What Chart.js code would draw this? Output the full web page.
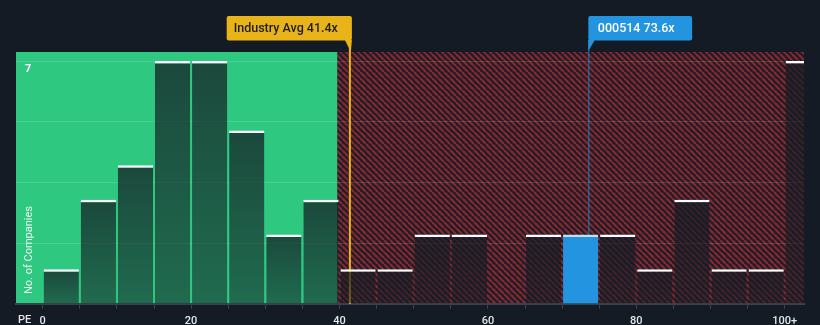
<!DOCTYPE html>
<html>
<head>
<meta charset="utf-8">
<script src="https://cdn.jsdelivr.net/npm/chart.js@4.4.1/dist/chart.umd.min.js"></script>
<style>
  html, body { margin: 0; padding: 0; background: #151b24; }
  #wrap { width: 820px; height: 325px; }
</style>
</head>
<body>
<div id="wrap"><canvas id="pe" width="820" height="325"></canvas></div>
<script>
// PE distribution of the industry, in bins of 5x
const binStarts = [0, 5, 10, 15, 20, 25, 30, 35, 40, 45, 50, 55, 60, 65, 70, 75, 80, 85, 90, 95, 100];
const companyCounts = [1, 3, 4, 7, 7, 5, 2, 3, 1, 1, 2, 2, 0, 2, 2, 2, 1, 3, 1, 1, 7];
const binWidth = 5;

// reference markers
const industryAvg = 41.4;
const companyName = '000514';
const companyPE = 73.6;
const fairRangeEnd = 40;

// axis ticks
const xTickValues = [0, 5, 10, 15, 20, 25, 30, 35, 40, 45, 50, 55, 60, 65, 70, 75, 80, 85, 90, 95, 100];
const xLabelValues = [0, 20, 40, 60, 80, 100];
const xLabelTexts = ['0', '20', '40', '60', '80', '100+'];
const yGridValues = [0, 1.75, 3.5, 5.25, 7];
const yLabelValue = 7;

const FONT = 'Roboto, "Noto Sans", sans-serif';
const BG = '#151b24';
const GREEN = '#2ec880';
const BLUE = '#2394df';
const GOLD = '#e9b31a';

const highlightIndex = binStarts.findIndex(s => companyPE >= s && companyPE < s + binWidth);

// diagonal hatch used for the overvalued zone
function makeHatch() {
  const s = 6;
  const c = document.createElement('canvas');
  c.width = s; c.height = s;
  const g = c.getContext('2d');
  g.fillStyle = '#251b24';
  g.fillRect(0, 0, s, s);
  g.strokeStyle = '#7e2b35';
  g.lineWidth = 2.2;
  g.beginPath();
  for (let k = -1; k <= 1; k++) {
    g.moveTo(k * s, 0);
    g.lineTo(k * s + s, s);
  }
  g.stroke();
  return g.createPattern(c, 'repeat');
}
let hatch = null;

const backdrop = {
  id: 'backdrop',
  beforeDraw(chart) {
    const { ctx, chartArea: a, scales } = chart;
    if (!hatch) hatch = makeHatch();
    ctx.save();
    ctx.fillStyle = BG;
    ctx.fillRect(0, 0, chart.width, chart.height);
    const split = scales.x.getPixelForValue(fairRangeEnd) - 2;
    ctx.fillStyle = GREEN;
    ctx.fillRect(a.left, a.top, split - a.left, a.bottom - a.top);
    ctx.fillStyle = hatch;
    ctx.fillRect(split, a.top, a.right - split, a.bottom - a.top);
    ctx.restore();
  }
};

const markerLines = {
  id: 'markerLines',
  beforeDatasetsDraw(chart) {
    const { ctx, chartArea: a, scales } = chart;
    ctx.save();
    const xa = scales.x.getPixelForValue(industryAvg);
    ctx.strokeStyle = GOLD;
    ctx.lineWidth = 2;
    ctx.beginPath();
    ctx.moveTo(xa, 40);
    ctx.lineTo(xa, a.bottom);
    ctx.stroke();

    const xc = scales.x.getPixelForValue(companyPE);
    ctx.strokeStyle = 'rgba(35,148,223,0.8)';
    ctx.lineWidth = 1;
    ctx.beginPath();
    ctx.moveTo(xc, 40);
    ctx.lineTo(xc, scales.y.getPixelForValue(companyCounts[highlightIndex]));
    ctx.stroke();
    ctx.restore();
  }
};

function roundRect(ctx, x, y, w, h, r) {
  ctx.beginPath();
  ctx.moveTo(x + r, y);
  ctx.lineTo(x + w - r, y);
  ctx.quadraticCurveTo(x + w, y, x + w, y + r);
  ctx.lineTo(x + w, y + h - r);
  ctx.quadraticCurveTo(x + w, y + h, x + w - r, y + h);
  ctx.lineTo(x + r, y + h);
  ctx.quadraticCurveTo(x, y + h, x, y + h - r);
  ctx.lineTo(x, y + r);
  ctx.quadraticCurveTo(x, y, x + r, y);
  ctx.closePath();
}

const labels = {
  id: 'labels',
  afterDraw(chart) {
    const { ctx, chartArea: a, scales } = chart;
    ctx.save();

    // industry average callout (box to the left of its line)
    const xa = scales.x.getPixelForValue(industryAvg);
    const t1 = 'Industry Avg ' + industryAvg.toFixed(1) + 'x';
    ctx.font = '500 12.5px ' + FONT;
    const w1 = ctx.measureText(t1).width + 21;
    ctx.fillStyle = GOLD;
    roundRect(ctx, xa + 2 - w1, 16, w1, 24.5, 2);
    ctx.fill();
    ctx.beginPath();
    ctx.moveTo(xa - 5, 40);
    ctx.lineTo(xa + 2, 40);
    ctx.lineTo(xa + 1, 52);
    ctx.closePath();
    ctx.fill();
    ctx.fillStyle = '#1d1d1d';
    ctx.textBaseline = 'middle';
    ctx.textAlign = 'left';
    ctx.fillText(t1, xa + 2 - w1 + 7, 29);

    // company callout (box to the right of its line)
    const xc = scales.x.getPixelForValue(companyPE);
    const t2 = companyName + ' ' + companyPE.toFixed(1) + 'x';
    const w2 = ctx.measureText(t2).width + 27;
    ctx.fillStyle = BLUE;
    roundRect(ctx, xc - 0.5, 16, w2, 24.5, 2);
    ctx.fill();
    ctx.beginPath();
    ctx.moveTo(xc - 0.5, 40);
    ctx.lineTo(xc + 6, 40);
    ctx.lineTo(xc - 0.5, 51);
    ctx.closePath();
    ctx.fill();
    ctx.fillStyle = '#ffffff';
    ctx.fillText(t2, xc + 9, 29);

    // top count label inside the plot
    ctx.font = 'bold 11px ' + FONT;
    ctx.fillStyle = '#ffffff';
    ctx.fillText(String(yLabelValue), a.left + 9, scales.y.getPixelForValue(yLabelValue) + 8);

    // y axis title
    ctx.save();
    ctx.translate(a.left + 13, 250);
    ctx.rotate(-Math.PI / 2);
    ctx.textAlign = 'center';
    ctx.font = '11px ' + FONT;
    ctx.fillStyle = 'rgba(255,255,255,0.9)';
    ctx.fillText('No. of Companies', 0, 0);
    ctx.restore();

    // x axis name
    ctx.font = '500 11px ' + FONT;
    ctx.fillStyle = '#e8e8e8';
    ctx.textAlign = 'left';
    ctx.fillText('PE', 18, 320.5);
    ctx.restore();
  }
};

function barFill(c) {
  if (c.type !== 'data') return 'transparent';
  if (c.dataIndex === highlightIndex) return BLUE;
  const chart = c.chart;
  if (!chart.chartArea) return 'rgba(20,28,36,0.65)';
  const y = chart.scales.y;
  const top = y.getPixelForValue(companyCounts[c.dataIndex]);
  const bottom = y.getPixelForValue(0);
  if (bottom - top < 1) return 'rgba(20,28,36,0.65)';
  const g = chart.ctx.createLinearGradient(0, top, 0, bottom);
  g.addColorStop(0, 'rgba(20,28,36,0.74)');
  g.addColorStop(1, 'rgba(20,28,36,0.54)');
  return g;
}

new Chart(document.getElementById('pe'), {
  type: 'bar',
  data: {
    datasets: [{
      data: binStarts.map((s, i) => ({ x: s + binWidth / 2, y: companyCounts[i] })),
      backgroundColor: barFill,
      borderColor: c => c.dataIndex === highlightIndex ? '#bfe0f7' : '#ffffff',
      borderWidth: { top: 2.5, left: 0, right: 0, bottom: 0 },
      borderSkipped: 'start',
      barPercentage: 0.95,
      categoryPercentage: 1
    }]
  },
  options: {
    responsive: false,
    animation: false,
    devicePixelRatio: 1,
    layout: { padding: { left: 16, right: 16, top: 52, bottom: 0 } },
    plugins: { legend: { display: false }, tooltip: { enabled: false } },
    scales: {
      x: {
        type: 'linear',
        offset: false,
        min: -3.6,
        max: 102.6,
        afterBuildTicks: s => { s.ticks = xTickValues.map(v => ({ value: v })); },
        afterFit: s => { s.height = 21; },
        grid: { offset: false, drawOnChartArea: false, drawTicks: true, tickLength: 5, color: '#3b424c', lineWidth: 1 },
        border: { display: true, color: '#3b424c', width: 2 },
        ticks: {
          autoSkip: false,
          maxRotation: 0,
          padding: 6,
          color: '#e8e8e8',
          font: { family: FONT, size: 11, weight: '500' },
          callback: v => {
            const k = xLabelValues.indexOf(v);
            return k >= 0 ? xLabelTexts[k] : '';
          }
        }
      },
      y: {
        min: 0,
        max: 7.26,
        afterBuildTicks: s => { s.ticks = yGridValues.map(v => ({ value: v })); },
        afterFit: s => { s.width = 0; },
        grid: { color: 'rgba(255,255,255,0.13)', lineWidth: 1, drawTicks: false },
        border: { display: false },
        ticks: { display: false }
      }
    }
  },
  plugins: [backdrop, markerLines, labels]
});
</script>
</body>
</html>
